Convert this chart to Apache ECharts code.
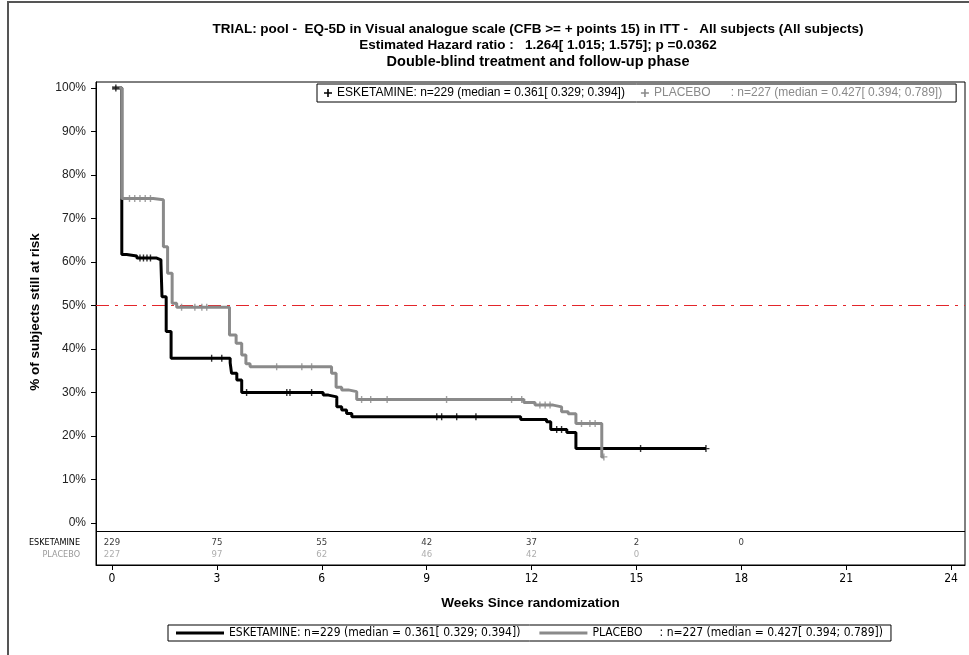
<!DOCTYPE html>
<html>
<head>
<meta charset="utf-8">
<script src="https://cdn.jsdelivr.net/npm/echarts@6/dist/echarts.min.js"></script>
<style>
  html, body { margin: 0; padding: 0; background: #fff; }
  #main { width: 969px; height: 655px; }
</style>
</head>
<body>
<div id="main"></div>
<script>
// Kaplan-Meier steps: time (weeks) and % still at risk after each step
var escTime = [0, 0.28, 0.42, 0.71, 1.28, 1.40, 1.43, 1.55, 1.69, 3.38, 3.42, 3.57, 3.71, 6.04, 6.19, 6.43, 6.57, 6.71, 6.86, 11.69, 12.43, 12.55, 13.01, 13.27, 16.99];
var escSurv = [100, 61.7, 61.4, 60.9, 60.5, 59.8, 52.0, 44.0, 37.9, 36.8, 34.4, 32.9, 30.0, 29.4, 29.0, 26.7, 26.0, 25.2, 24.4, 23.8, 23.3, 21.5, 20.8, 17.1, 17.1];
var plaTime = [0, 0.28, 1.18, 1.47, 1.59, 1.72, 1.85, 3.36, 3.55, 3.71, 3.83, 3.95, 6.28, 6.41, 6.57, 6.76, 7.00, 11.78, 12.10, 12.62, 12.86, 13.05, 13.27, 14.01, 14.07];
var plaSurv = [100, 74.6, 74.3, 63.5, 57.4, 50.5, 49.6, 43.2, 41.3, 38.6, 36.6, 35.9, 34.4, 31.2, 30.6, 30.2, 28.4, 27.7, 27.1, 26.7, 25.6, 25.1, 22.9, 15.2, 15.2];

// censored observations (weeks)
var escCensor = [0.11, 0.8, 0.9, 1.0, 1.1, 2.85, 3.14, 3.85, 5.0, 5.09, 5.71, 9.29, 9.43, 9.86, 10.41, 12.72, 12.86, 15.12, 16.99];
var plaCensor = [0.5, 0.65, 0.8, 0.95, 1.1, 1.99, 2.37, 2.57, 2.71, 4.71, 5.43, 5.71, 7.14, 7.4, 7.87, 9.57, 11.43, 11.72, 12.24, 12.39, 12.53, 13.43, 13.67, 13.82, 14.07];

// number at risk
var riskWeeks = [0, 3, 6, 9, 12, 15, 18];
var escRisk = [229, 75, 55, 42, 37, 2, 0];
var plaRisk = [227, 97, 62, 46, 42, 0];

var xTicks = [0, 3, 6, 9, 12, 15, 18, 21, 24];
var yTicks = [0, 10, 20, 30, 40, 50, 60, 70, 80, 90, 100];
var xMin = -0.458, xMax = 24.4;
var medianLine = 50;

var topLegendText = {
  'ESKETAMINE': 'ESKETAMINE: n=229 (median = 0.361[ 0.329; 0.394])',
  'PLACEBO': 'PLACEBO      : n=227 (median = 0.427[ 0.394; 0.789])'
};
var bottomLegendText = {
  'ESKETAMINE': 'ESKETAMINE: n=229 (median = 0.361[ 0.329; 0.394])',
  'PLACEBO': 'PLACEBO     : n=227 (median = 0.427[ 0.394; 0.789])'
};

var BLACK = '#000';
var GREY = '#8a8a8a';
var RED = '#e3262b';
var NARROW = "'DejaVu Sans Condensed', 'Liberation Sans Narrow', sans-serif";
var SANS = "'Liberation Sans', Arial, sans-serif";
var PLUS = 'path://M4,0H6V10H4Z M0,4H10V6H0Z';

function survAt(times, surv, t) {
  var v = surv[0];
  for (var i = 0; i < times.length; i++) {
    if (times[i] <= t + 1e-9) v = surv[i];
  }
  return v;
}

function pairs(times, surv) {
  return times.map(function (t, i) { return [t, surv[i]]; });
}

var chart = echarts.init(document.getElementById('main'));

chart.setOption({
  animation: false,
  backgroundColor: '#fff',
  title: [
    {
      text: 'TRIAL: pool -  EQ-5D in Visual analogue scale (CFB >= + points 15) in ITT -   All subjects (All subjects)',
      left: 533, top: 17, textAlign: 'center',
      textStyle: { fontSize: 13.5, fontWeight: 'bold', fontFamily: SANS, color: '#000' }
    },
    {
      text: 'Estimated Hazard ratio :   1.264[ 1.015; 1.575]; p =0.0362',
      left: 533, top: 33, textAlign: 'center',
      textStyle: { fontSize: 13.5, fontWeight: 'bold', fontFamily: SANS, color: '#000' }
    },
    {
      text: 'Double-blind treatment and follow-up phase',
      left: 533, top: 49, textAlign: 'center',
      textStyle: { fontSize: 14.5, fontWeight: 'bold', fontFamily: SANS, color: '#000' }
    }
  ],
  legend: [
    {
      data: [{ name: 'ESKETAMINE', textStyle: { color: BLACK } }, { name: 'PLACEBO', textStyle: { color: GREY } }],
      left: 317, top: 84,
      icon: PLUS, itemWidth: 8, itemHeight: 8, itemGap: 16,
      formatter: function (name) { return topLegendText[name]; },
      borderColor: '#000', borderWidth: 1, padding: [3, 14, 3, 7],
      backgroundColor: '#fff',
      selectedMode: false,
      textStyle: { fontSize: 12, fontFamily: SANS }
    },
    {
      data: [{ name: 'ESKETAMINE', textStyle: { color: BLACK } }, { name: 'PLACEBO', textStyle: { color: BLACK } }],
      left: 168, top: 625,
      icon: 'path://M0,0H50V3H0Z', itemWidth: 48, itemHeight: 3, itemGap: 19,
      formatter: function (name) { return bottomLegendText[name]; },
      borderColor: '#000', borderWidth: 1, padding: [2, 8, 2, 8],
      selectedMode: false,
      textStyle: { fontSize: 12, fontFamily: NARROW, color: '#000' }
    }
  ],
  grid: {
    left: 96, top: 82, width: 869, height: 483,
    show: true, borderColor: '#000', borderWidth: 1
  },
  xAxis: {
    type: 'value',
    min: xMin, max: xMax,
    name: 'Weeks Since randomization',
    nameLocation: 'middle', nameGap: 31,
    nameTextStyle: { fontSize: 13.5, fontWeight: 'bold', fontFamily: SANS, color: '#000' },
    axisLine: { onZero: false, lineStyle: { color: '#000' } },
    axisTick: { customValues: xTicks, length: 5, lineStyle: { color: '#000' } },
    axisLabel: { customValues: xTicks, margin: 8, fontSize: 12, fontFamily: NARROW, color: '#000' },
    splitLine: { show: false }
  },
  yAxis: {
    type: 'value',
    min: -9.655, max: 101.38,
    axisLine: { show: true, onZero: false, lineStyle: { color: '#000' } },
    axisTick: { customValues: yTicks, length: 5, lineStyle: { color: '#000' } },
    axisLabel: {
      customValues: yTicks, margin: 10, fontSize: 12, fontFamily: SANS, color: '#222',
      formatter: '{value}%'
    },
    splitLine: { show: false }
  },
  graphic: [
    { type: 'rect', silent: true, shape: { x: 8, y: 2, width: 1000, height: 700 },
      style: { fill: 'none', stroke: '#555', lineWidth: 2 } },
    { type: 'line', silent: true, shape: { x1: 96, y1: 531.5, x2: 965, y2: 531.5 },
      style: { stroke: '#000', lineWidth: 1 } },
    { type: 'text', silent: true, x: 80, y: 543,
      style: { text: 'ESKETAMINE', fill: BLACK, font: '9px ' + NARROW, textAlign: 'right', textVerticalAlign: 'middle' } },
    { type: 'text', silent: true, x: 80, y: 555,
      style: { text: 'PLACEBO', fill: '#999', font: '9px ' + NARROW, textAlign: 'right', textVerticalAlign: 'middle' } },
    { type: 'text', silent: true, x: 35, y: 312, rotation: Math.PI / 2,
      style: { text: '% of subjects still at risk', fill: '#000', font: 'bold 13.5px ' + SANS, textAlign: 'center', textVerticalAlign: 'middle' } }
  ],
  series: [
    {
      name: 'median', type: 'line', silent: true,
      data: [[xMin, medianLine], [xMax, medianLine]],
      showSymbol: false, color: RED,
      lineStyle: { color: RED, width: 1.2, type: [13, 6, 3, 6] },
      z: 1
    },
    {
      name: 'ESKETAMINE', type: 'line', step: 'end',
      data: pairs(escTime, escSurv),
      showSymbol: false, color: BLACK,
      lineStyle: { width: 3, color: BLACK },
      z: 2
    },
    {
      name: 'PLACEBO', type: 'line', step: 'end',
      data: pairs(plaTime, plaSurv),
      showSymbol: false, color: GREY,
      lineStyle: { width: 3, color: GREY },
      z: 3
    },
    {
      name: 'escCensor', type: 'scatter', symbol: PLUS, symbolSize: 7,
      itemStyle: { color: BLACK },
      data: escCensor.map(function (t) { return [t, survAt(escTime, escSurv, t)]; }),
      z: 4
    },
    {
      name: 'plaCensor', type: 'scatter', symbol: PLUS, symbolSize: 7,
      itemStyle: { color: GREY },
      data: plaCensor.map(function (t) { return [t, survAt(plaTime, plaSurv, t)]; }),
      z: 4
    },
    {
      name: 'riskEsk', type: 'scatter', symbolSize: 0, silent: true,
      data: escRisk.map(function (n, i) { return [riskWeeks[i], -4.6, n]; }),
      label: { show: true, position: 'inside', formatter: function (p) { return p.value[2]; },
        fontSize: 9.5, fontFamily: NARROW, color: BLACK }
    },
    {
      name: 'riskPla', type: 'scatter', symbolSize: 0, silent: true,
      data: plaRisk.map(function (n, i) { return [riskWeeks[i], -7.36, n]; }),
      label: { show: true, position: 'inside', formatter: function (p) { return p.value[2]; },
        fontSize: 9.5, fontFamily: NARROW, color: '#999' }
    }
  ]
});
</script>
</body>
</html>
